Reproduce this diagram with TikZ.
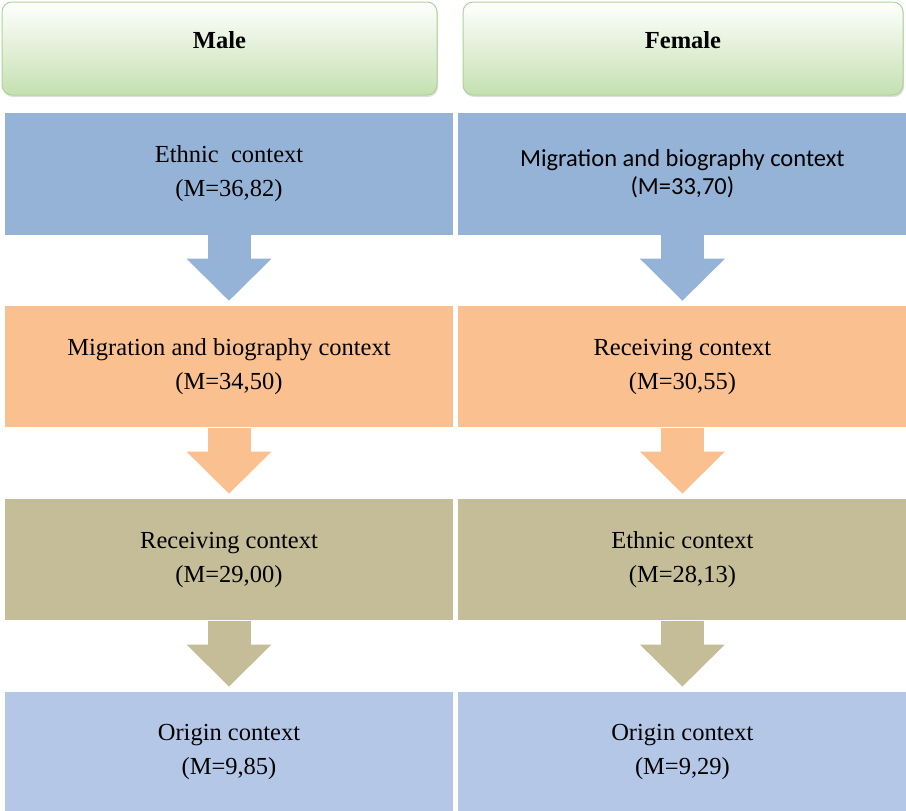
\documentclass[tikz,border=0pt]{standalone}
\usepackage{fontspec}
\setmainfont{Liberation Serif}
\newfontfamily\calibrifont{Carlito}
\usepackage{tikz}
\usetikzlibrary{arrows.meta, positioning, shadows}
\definecolor{hdrgreen}{HTML}{C4E0B0}
\definecolor{hdrline}{HTML}{AED39A}
\definecolor{ethblue}{HTML}{95B3D7}
\definecolor{migorange}{HTML}{FAC090}
\definecolor{recolive}{HTML}{C4BD97}
\definecolor{oriblue}{HTML}{B4C7E7}

\begin{document}
\begin{tikzpicture}[
  font=\fontsize{24.5}{34}\selectfont,
  node distance=71pt,
  hdr/.style={rounded corners=10pt, top color=white, bottom color=hdrgreen, draw=hdrline, line width=1pt,
    minimum height=93pt, inner sep=0pt, text depth=16pt,
    drop shadow={shadow xshift=1pt, shadow yshift=-2pt, opacity=0.25}},
  ctx/.style={minimum width=448pt, minimum height=121.5pt, inner sep=0pt, align=center},
  flow/.style={line width=43pt, -{Triangle[width=85pt,length=42pt,line width=0pt]}, shorten >=5pt}
]
  \useasboundingbox (0,0) rectangle (906pt,-811pt);

  % En-tetes
  \node[hdr, minimum width=435pt] (male) at (219.5pt,-48.5pt) {\textbf{Male}};
  \node[hdr, minimum width=440pt] (female) at (683pt,-48.5pt) {\textbf{Female}};

  % Colonne hommes
  \node[ctx, fill=ethblue] (m1) at (229pt,-173.75pt) {Ethnic\ \ context\\(M=36,82)};
  \node[ctx, fill=migorange, below=of m1] (m2) {Migration and biography context\\(M=34,50)};
  \node[ctx, fill=recolive, below=of m2] (m3) {Receiving context\\(M=29,00)};
  \node[ctx, fill=oriblue, below=of m3] (m4) {Origin context\\(M=9,85)};

  % Colonne femmes
  \node[ctx, fill=ethblue, right=5pt of m1, font=\calibrifont\fontsize{24.5}{28}\selectfont] (f1)
    {Migration and biography context\\(M=33,70)};
  \node[ctx, fill=migorange, right=5pt of m2] (f2) {Receiving context\\(M=30,55)};
  \node[ctx, fill=recolive, right=5pt of m3] (f3) {Ethnic context\\(M=28,13)};
  \node[ctx, fill=oriblue, right=5pt of m4] (f4) {Origin context\\(M=9,29)};

  % Fleches
  \draw[flow, ethblue] (m1) -- (m2);
  \draw[flow, migorange] (m2) -- (m3);
  \draw[flow, recolive] (m3) -- (m4);
  \draw[flow, ethblue] (f1) -- (f2);
  \draw[flow, migorange] (f2) -- (f3);
  \draw[flow, recolive] (f3) -- (f4);

\end{tikzpicture}
\end{document}
